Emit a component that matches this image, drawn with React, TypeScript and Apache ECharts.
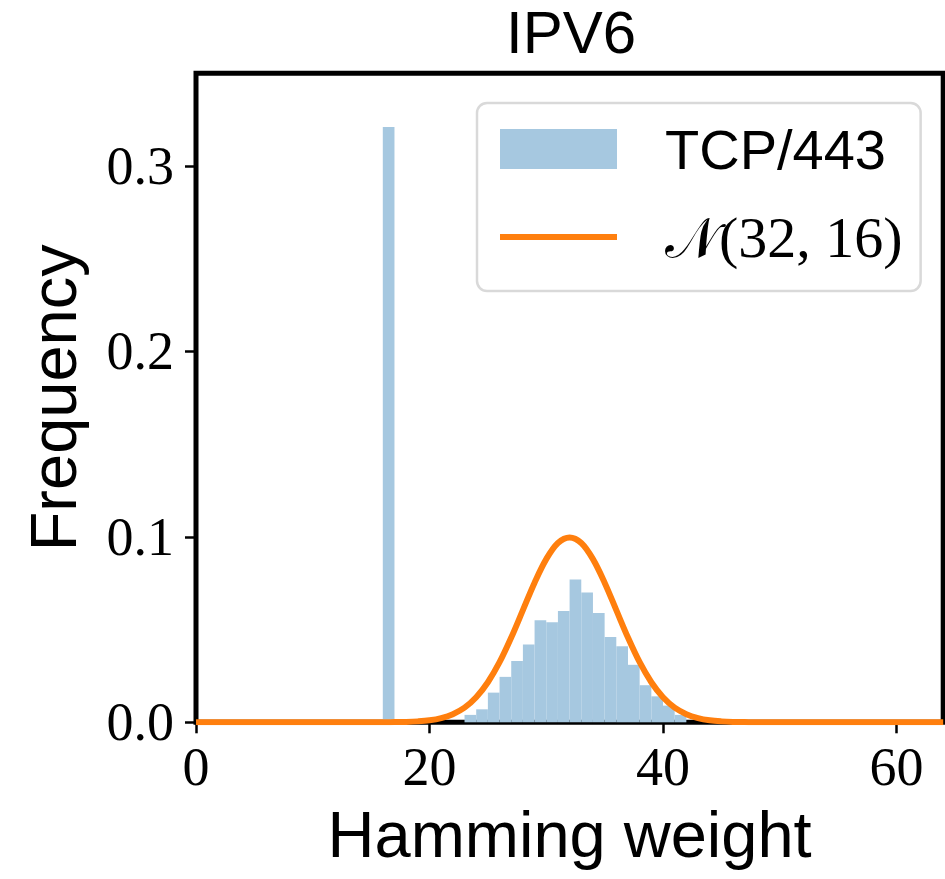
import React, { useEffect, useRef } from "react";
import * as echarts from "echarts";

const titleText = "IPV6";
const xName = "Hamming weight";
const yName = "Frequency";
const xTicks = [0, 20, 40, 60];
const yTicks = [0, 0.1, 0.2, 0.3];

const histName = "TCP/443";
const binStarts = [16, 23, 24, 25, 26, 27, 28, 29, 30, 31, 32, 33, 34, 35, 36, 37, 38, 39, 40, 41];
const binFreqs = [0.321, 0.004, 0.007, 0.016, 0.0245, 0.033, 0.042, 0.055, 0.054, 0.06, 0.077, 0.07, 0.059, 0.046, 0.041, 0.031, 0.02, 0.014, 0.009, 0.004];

const normalName = "𝒩(32, 16)";
const normalX = [0, 14, 15, 16, 17, 18, 19, 20, 21, 22, 23, 24, 25, 26, 27, 28, 29, 30, 31, 32, 33, 34, 35, 36, 37, 38, 39, 40, 41, 42, 43, 44, 45, 46, 47, 48, 49, 50, 64];
const normalY = [0, 0, 0, 0, 0.0001, 0.0002, 0.0005, 0.0011, 0.0023, 0.0044, 0.0079, 0.0135, 0.0216, 0.0324, 0.0457, 0.0605, 0.0753, 0.088, 0.0967, 0.0997, 0.0967, 0.088, 0.0753, 0.0605, 0.0457, 0.0324, 0.0216, 0.0135, 0.0079, 0.0044, 0.0023, 0.0011, 0.0005, 0.0002, 0.0001, 0, 0, 0, 0];

const BAR_COLOR = "#a6c8e0";
const LINE_COLOR = "#ff7f0e";

export default function App() {
  const ref = useRef<HTMLDivElement>(null);
  useEffect(() => {
    if (!ref.current) return;
    const chart = echarts.init(ref.current, null, { renderer: "svg" });
    const histData = binStarts.map((s, i) => [s, s + 1, binFreqs[i]]);
    const lineData = normalX.map((x, i) => [x, normalY[i]]);
    chart.setOption({
      animation: false,
      backgroundColor: "#fff",
      graphic: [
        {
          type: "text",
          x: 571,
          y: 32,
          style: {
            text: titleText,
            fontSize: 60,
            lineHeight: 48,
            fontFamily: "Liberation Sans",
            fill: "#000",
            align: "center",
            verticalAlign: "middle",
          },
        },
      ],
      grid: {
        left: 196,
        top: 73.3,
        right: 1.8,
        bottom: 156.7,
        show: true,
        borderColor: "#000",
        borderWidth: 5,
        backgroundColor: "transparent",
        outerBoundsMode: "none",
        containLabel: false,
      },
      legend: {
        left: 477,
        top: 103,
        orient: "vertical",
        backgroundColor: "#fff",
        borderColor: "#d9d9d9",
        borderWidth: 2.5,
        borderRadius: 10,
        padding: [16, 18, 24, 23],
        itemWidth: 117,
        itemHeight: 40,
        itemGap: 28,
        textStyle: {
          fontSize: 56,
          fontFamily: "Liberation Sans",
          color: "#000",
          padding: [0, 0, 0, 43],
          lineHeight: 60,
          rich: {
            m: { fontSize: 56, color: "#000", lineHeight: 60 },
            s: { fontSize: 58, fontFamily: "Liberation Serif", color: "#000", lineHeight: 60 },
          },
        },
        formatter: (name: string) =>
          name === normalName ? "{m|𝒩}{s|(32, 16)}" : name,
        data: [
          { name: histName, icon: "rect" },
          { name: normalName, icon: "path://M0,0 L117,0 L117,6 L0,6 Z" },
        ],
      },
      xAxis: {
        type: "value",
        min: 0,
        max: 64,
        name: xName,
        nameLocation: "middle",
        nameGap: 80,
        nameTextStyle: { fontSize: 65, fontFamily: "Liberation Sans", color: "#000" },
        axisLine: { show: false },
        splitLine: { show: false },
        axisTick: {
          show: true,
          length: 11,
          customValues: xTicks,
          lineStyle: { color: "#000", width: 2.5 },
        },
        axisLabel: {
          customValues: xTicks,
          fontSize: 54,
          fontFamily: "Liberation Serif",
          color: "#000",
          margin: 18,
        },
      },
      yAxis: {
        type: "value",
        min: 0,
        max: 0.35,
        name: yName,
        nameLocation: "middle",
        nameRotate: 90,
        nameGap: 110,
        nameTextStyle: { fontSize: 65, fontFamily: "Liberation Sans", color: "#000" },
        axisLine: { show: false },
        splitLine: { show: false },
        axisTick: {
          show: true,
          length: 11,
          customValues: yTicks,
          lineStyle: { color: "#000", width: 2.5 },
        },
        axisLabel: {
          customValues: yTicks,
          fontSize: 54,
          fontFamily: "Liberation Serif",
          color: "#000",
          margin: 22,
          formatter: (v: number) => v.toFixed(1),
        },
      },
      series: [
        {
          type: "custom",
          name: histName,
          itemStyle: { color: BAR_COLOR },
          encode: { x: [0, 1], y: 2 },
          data: histData,
          renderItem: (params: any, api: any) => {
            const x0 = api.value(0);
            const x1 = api.value(1);
            const h = api.value(2);
            const p0 = api.coord([x0, h]);
            const p1 = api.coord([x1, 0]);
            return {
              type: "rect",
              shape: { x: p0[0], y: p0[1], width: p1[0] - p0[0], height: p1[1] - p0[1] },
              style: { fill: BAR_COLOR },
            };
          },
        },
        {
          type: "line",
          name: normalName,
          data: lineData,
          smooth: 0.35,
          symbol: "none",
          showSymbol: false,
          lineStyle: { color: LINE_COLOR, width: 6 },
          itemStyle: { color: LINE_COLOR },
        },
      ],
    });
    return () => chart.dispose();
  }, []);
  return (
    <div
      ref={ref}
      style={{ position: "fixed", left: 0, top: 0, width: 945, height: 879, background: "#fff" }}
    />
  );
}
